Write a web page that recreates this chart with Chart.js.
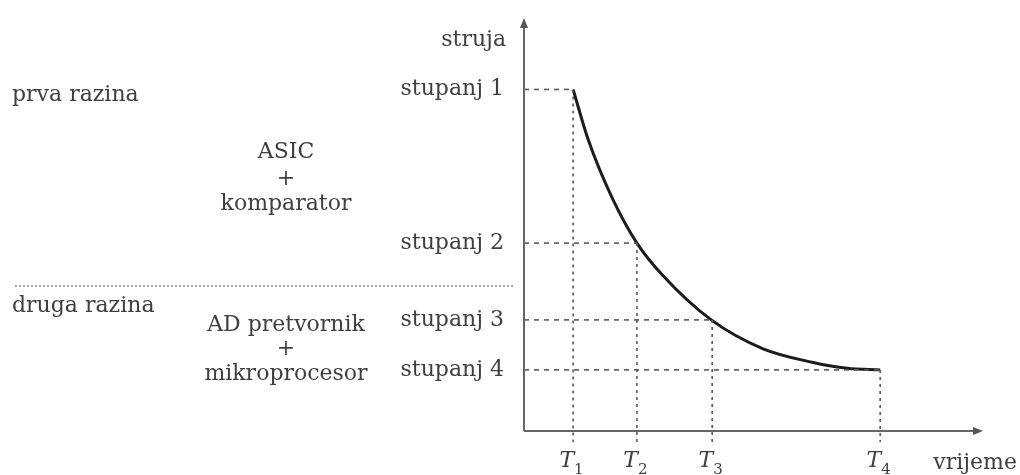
<!DOCTYPE html>
<html>
<head>
<meta charset="utf-8">
<script src="https://cdn.jsdelivr.net/npm/chart.js@4"></script>
<style>
  body { margin: 0; background: #fff; }
  canvas { display: block; }
</style>
</head>
<body>
<canvas id="grafikon" width="1020" height="475"></canvas>
<script>
// razine struje (os y) i trenuci (os x)
const razineVrijednosti = [82.7, 45.5, 26.9, 14.8];
const razineOznake = ['stupanj 1', 'stupanj 2', 'stupanj 3', 'stupanj 4'];
const vremenaVrijednosti = [10.7, 24.6, 41.0, 77.6];
const vremenaIndeksi = ['1', '2', '3', '4'];

// krivulja struje
const krivuljaX = [10.7, 14.0, 19.1, 24.6, 30.3, 40.8, 52.1, 63.0, 70.4, 77.6];
const krivuljaY = [82.7, 70.5, 56.7, 45.5, 37.6, 26.9, 19.9, 16.6, 15.2, 14.8];

const granicaRazina = 35.1;
const dnoIsprekidano = -2.7;

const boja = '#3f3f3f';
const font = "'DejaVu Serif', serif";

const ctx = document.getElementById('grafikon');

let datasets = [];

// isprekidane pomocne linije
for (let i = 0; i < razineVrijednosti.length; i++) {
    datasets.push({
        data: [{ x: 0, y: razineVrijednosti[i] }, { x: vremenaVrijednosti[i], y: razineVrijednosti[i] }],
        borderColor: '#5a5a5a',
        borderWidth: 1.6,
        borderDash: [5, 5],
        pointRadius: 0,
        clip: false
    });
    datasets.push({
        data: [{ x: vremenaVrijednosti[i], y: razineVrijednosti[i] }, { x: vremenaVrijednosti[i], y: dnoIsprekidano }],
        borderColor: '#5a5a5a',
        borderWidth: 1.6,
        borderDash: [3, 4],
        pointRadius: 0,
        clip: false
    });
}

datasets.push({
    data: krivuljaX.map((x, i) => ({ x: x, y: krivuljaY[i] })),
    borderColor: '#1c1c1c',
    borderWidth: 3,
    pointRadius: 0,
    cubicInterpolationMode: 'monotone',
    clip: false
});

const dodaci = {
    id: 'dodaci',
    afterDatasetsDraw(chart) {
        const c = chart.ctx;
        const a = chart.chartArea;
        const sx = chart.scales.x;
        const sy = chart.scales.y;
        c.save();

        // osi sa strelicama
        c.strokeStyle = '#666';
        c.fillStyle = '#555';
        c.lineWidth = 2;
        c.beginPath();
        c.moveTo(a.left, a.bottom);
        c.lineTo(a.left, a.top + 6);
        c.moveTo(a.left, a.bottom);
        c.lineTo(a.right - 6, a.bottom);
        c.stroke();
        c.beginPath();
        c.moveTo(a.left, a.top);
        c.lineTo(a.left - 4, a.top + 10);
        c.lineTo(a.left + 4, a.top + 10);
        c.closePath();
        c.fill();
        c.beginPath();
        c.moveTo(a.right, a.bottom);
        c.lineTo(a.right - 10, a.bottom - 4);
        c.lineTo(a.right - 10, a.bottom + 4);
        c.closePath();
        c.fill();

        // tockasta granica izmedju razina
        const yg = sy.getPixelForValue(granicaRazina);
        c.strokeStyle = '#888';
        c.lineWidth = 1.5;
        c.setLineDash([2, 2]);
        c.beginPath();
        c.moveTo(15, yg);
        c.lineTo(a.left - 10, yg);
        c.stroke();
        c.setLineDash([]);

        // oznake T s indeksima
        c.fillStyle = boja;
        c.textBaseline = 'middle';
        vremenaVrijednosti.forEach((v, i) => {
            const px = sx.getPixelForValue(v);
            c.font = 'italic 22px ' + font;
            c.textAlign = 'right';
            c.fillText('T', px + 1, 461);
            c.font = '15px ' + font;
            c.textAlign = 'left';
            c.fillText(vremenaIndeksi[i], px + 1, 470);
        });

        // tekstovi
        c.font = '22px ' + font;
        c.textAlign = 'right';
        c.fillText('struja', 506, 40);
        c.fillText('vrijeme', 1017, 463);
        c.textAlign = 'left';
        c.fillText('prva razina', 12, 95);
        c.fillText('druga razina', 12, 306);
        c.textAlign = 'center';
        c.fillText('ASIC', 286, 152);
        c.fillText('+', 286, 179);
        c.fillText('komparator', 286, 204);
        c.fillText('AD pretvornik', 286, 325);
        c.fillText('+', 286, 349);
        c.fillText('mikroprocesor', 286, 374);
        c.restore();
    }
};

new Chart(ctx, {
    type: 'line',
    data: { datasets: datasets },
    options: {
        responsive: false,
        animation: false,
        layout: { padding: { top: 18, right: 37, left: 0, bottom: 0 } },
        plugins: { legend: { display: false }, tooltip: { enabled: false } },
        scales: {
            x: {
                type: 'linear',
                min: 0,
                max: 100,
                grid: { display: false, drawTicks: false },
                border: { display: false },
                afterFit: (axis) => { axis.height = 44; axis.paddingLeft = 0; axis.paddingRight = 0; },
                ticks: { display: false }
            },
            y: {
                type: 'linear',
                min: 0,
                max: 100,
                grid: { display: false, drawTicks: false },
                border: { display: false },
                afterBuildTicks: (axis) => { axis.ticks = razineVrijednosti.map(v => ({ value: v })); },
                afterFit: (axis) => { axis.width = 524; axis.paddingTop = 0; axis.paddingBottom = 0; },
                ticks: {
                    autoSkip: false,
                    padding: 20,
                    color: boja,
                    font: { family: font, size: 22 },
                    callback: (v, i) => razineOznake[i]
                }
            }
        }
    },
    plugins: [dodaci]
});
</script>
</body>
</html>
